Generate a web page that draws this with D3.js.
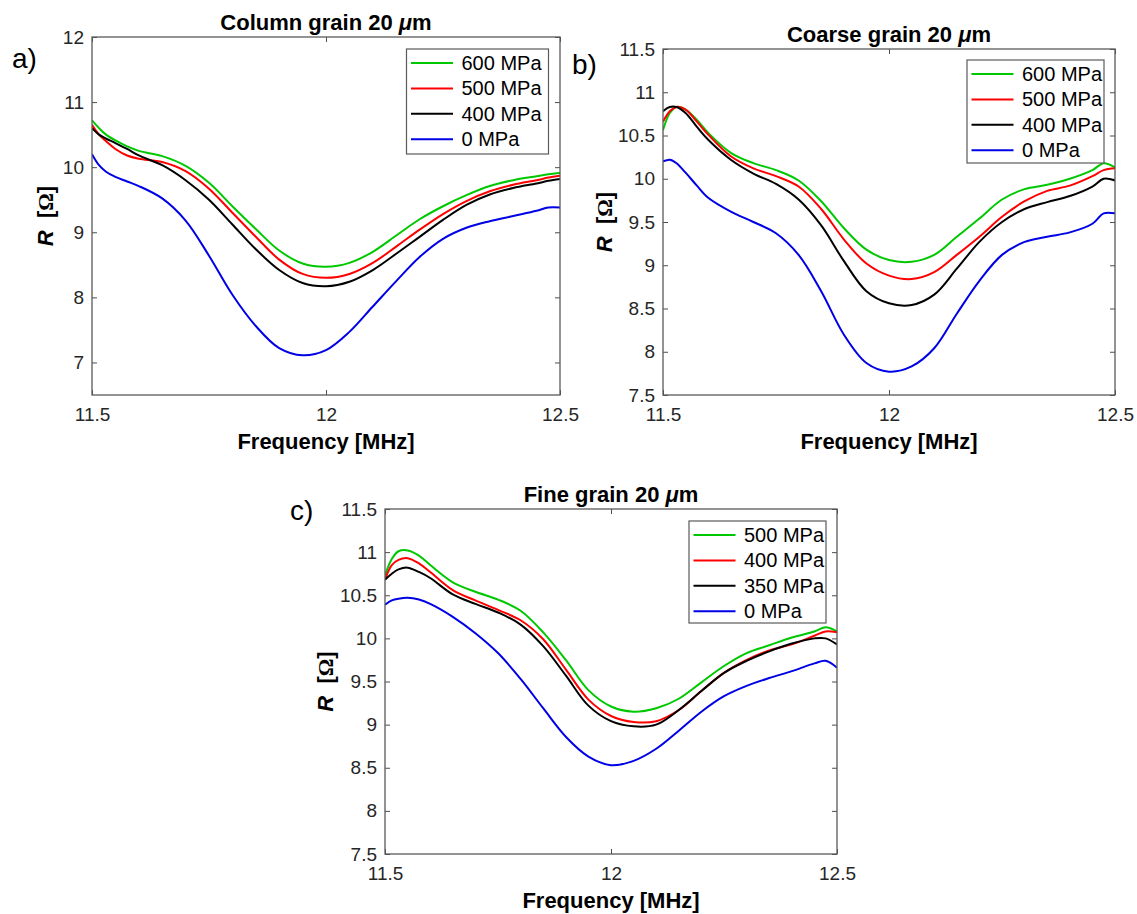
<!doctype html>
<html lang="en">
  <head>
    <meta charset="utf-8">
    <title>R vs frequency under stress</title>
    <script src="https://d3js.org/d3.v7.min.js"></script>
    <style>
      body { margin: 0; background: #fff; }
      svg { display: block; font-family: Arial, "Liberation Sans", sans-serif; }
      .tick text { fill: #262626; }
    </style>
  </head>
  <body>
    <div id="chart"></div>
    <script>

      // frequency samples [MHz], shared by the three panels
      const freq = [11.5, 11.515, 11.53, 11.55, 11.575, 11.6, 11.65, 11.7, 11.75, 11.8, 11.85, 11.9, 11.95,
                    12.0, 12.05, 12.1, 12.15, 12.2, 12.25, 12.3, 12.35, 12.4, 12.45, 12.475, 12.5];

      const xTicks = [11.5, 12, 12.5];
      const yTicksA = [7, 8, 9, 10, 11, 12];
      const yTicksBC = [7.5, 8, 8.5, 9, 9.5, 10, 10.5, 11, 11.5];
      const colors = ["#00c800", "#ff0000", "#000000", "#0000e6"];

      // a) column grain
      const columnLabels = ["600 MPa", "500 MPa", "400 MPa", "0 MPa"];
      const column600 = [10.72, 10.60, 10.50, 10.41, 10.32, 10.25, 10.17, 10.02, 9.76, 9.40, 9.05, 8.72, 8.52,
                         8.47, 8.53, 8.70, 8.95, 9.20, 9.40, 9.57, 9.71, 9.80, 9.86, 9.89, 9.91];
      const column500 = [10.65, 10.50, 10.40, 10.28, 10.18, 10.13, 10.08, 9.94, 9.67, 9.30, 8.93, 8.58, 8.36,
                         8.30, 8.36, 8.53, 8.78, 9.04, 9.28, 9.48, 9.63, 9.73, 9.80, 9.84, 9.87];
      const column400 = [10.60, 10.50, 10.44, 10.37, 10.28, 10.18, 10.03, 9.80, 9.50, 9.12, 8.74, 8.42, 8.22,
                         8.17, 8.24, 8.42, 8.67, 8.93, 9.19, 9.42, 9.58, 9.68, 9.75, 9.79, 9.82];
      const column0 = [10.20, 10.03, 9.93, 9.85, 9.78, 9.71, 9.52, 9.18, 8.64, 8.04, 7.56, 7.22, 7.11,
                       7.19, 7.47, 7.86, 8.25, 8.62, 8.90, 9.07, 9.17, 9.25, 9.33, 9.38, 9.38];

      // b) coarse grain
      const coarseLabels = ["600 MPa", "500 MPa", "400 MPa", "0 MPa"];
      const coarse600 = [10.56, 10.76, 10.83, 10.80, 10.68, 10.53, 10.30, 10.18, 10.10, 9.98, 9.74, 9.43, 9.18,
                         9.06, 9.04, 9.12, 9.33, 9.54, 9.76, 9.88, 9.93, 10.00, 10.10, 10.18, 10.13];
      const coarse500 = [10.66, 10.78, 10.83, 10.80, 10.66, 10.51, 10.26, 10.12, 10.03, 9.91, 9.65, 9.30, 9.02,
                         8.88, 8.84, 8.92, 9.12, 9.33, 9.56, 9.74, 9.86, 9.92, 10.03, 10.10, 10.12];
      const coarse400 = [10.78, 10.83, 10.83, 10.76, 10.60, 10.45, 10.22, 10.06, 9.94, 9.76, 9.46, 9.05, 8.70,
                         8.56, 8.54, 8.66, 8.96, 9.27, 9.50, 9.65, 9.73, 9.80, 9.91, 10.00, 9.98];
      const coarse0 = [10.20, 10.22, 10.18, 10.07, 9.92, 9.78, 9.62, 9.50, 9.37, 9.12, 8.70, 8.20, 7.87,
                       7.77, 7.83, 8.04, 8.44, 8.82, 9.12, 9.27, 9.33, 9.38, 9.48, 9.60, 9.60];

      // c) fine grain
      const fineLabels = ["500 MPa", "400 MPa", "350 MPa", "0 MPa"];
      const fine500 = [10.73, 10.92, 11.01, 11.02, 10.96, 10.85, 10.65, 10.54, 10.45, 10.32, 10.07, 9.75, 9.40,
                       9.21, 9.15, 9.19, 9.30, 9.49, 9.68, 9.83, 9.92, 10.01, 10.08, 10.13, 10.08];
      const fine400 = [10.68, 10.85, 10.91, 10.93, 10.87, 10.77, 10.56, 10.44, 10.33, 10.21, 9.99, 9.64, 9.29,
                       9.10, 9.03, 9.04, 9.17, 9.39, 9.60, 9.75, 9.86, 9.93, 10.03, 10.08, 10.07];
      const fine350 = [10.68, 10.75, 10.80, 10.82, 10.77, 10.70, 10.51, 10.40, 10.30, 10.16, 9.91, 9.57, 9.22,
                       9.04, 8.98, 9.00, 9.17, 9.39, 9.60, 9.74, 9.85, 9.94, 10.00, 10.00, 9.93];
      const fine0 = [10.39, 10.44, 10.46, 10.47, 10.45, 10.40, 10.25, 10.06, 9.83, 9.53, 9.19, 8.86, 8.63,
                     8.53, 8.58, 8.72, 8.93, 9.15, 9.33, 9.45, 9.54, 9.62, 9.71, 9.74, 9.66];

      const panels = [
        {id: "a", title: "Column grain", letter: "a)", letterPos: [12, 68],
         box: {left: 92, top: 37, width: 468, height: 358}, yDomain: [6.5, 12], yTicks: yTicksA, yLabelX: 53,
         legend: {x: 406.5, y: 49, w: 142, h: 105}, labels: columnLabels,
         series: [column600, column500, column400, column0]},
        {id: "b", title: "Coarse grain", letter: "b)", letterPos: [572, 74],
         box: {left: 663, top: 49, width: 452, height: 346}, yDomain: [7.5, 11.5], yTicks: yTicksBC, yLabelX: 612,
         legend: {x: 967, y: 60, w: 137, h: 103}, labels: coarseLabels,
         series: [coarse600, coarse500, coarse400, coarse0]},
        {id: "c", title: "Fine grain", letter: "c)", letterPos: [290, 520],
         box: {left: 385, top: 509, width: 452, height: 345}, yDomain: [7.5, 11.5], yTicks: yTicksBC, yLabelX: 333,
         legend: {x: 689, y: 521, w: 137, h: 102}, labels: fineLabels,
         series: [fine500, fine400, fine350, fine0]}
      ];

      const svg = d3.select("#chart")
        .append("svg")
          .attr("width", 1137)
          .attr("height", 914);

      const fmt = d3.format("~g");

      panels.forEach(p => {
        const b = p.box;
        const x = d3.scaleLinear().domain([11.5, 12.5]).range([0, b.width]);
        const y = d3.scaleLinear().domain(p.yDomain).range([b.height, 0]);

        const g = svg.append("g")
          .attr("transform", `translate(${b.left},${b.top})`);

        g.append("clipPath")
          .attr("id", "clip-" + p.id)
          .append("rect")
            .attr("width", b.width)
            .attr("height", b.height);

        // ticks point inwards on all four sides, labels only bottom and left
        const styleAxis = sel => {
          sel.select(".domain").remove();
          sel.selectAll(".tick line").attr("stroke", "#4d4d4d").attr("stroke-width", 1);
        };

        g.append("g")
          .attr("transform", `translate(0,${b.height})`)
          .call(d3.axisBottom(x).tickValues(xTicks).tickSizeInner(-5).tickSizeOuter(0).tickPadding(13).tickFormat(fmt))
          .call(styleAxis)
          .selectAll("text")
            .attr("font-size", "19px")
            .attr("font-family", "Arial, 'Liberation Sans', sans-serif");

        g.append("g")
          .call(d3.axisTop(x).tickValues(xTicks).tickSizeInner(-5).tickSizeOuter(0).tickFormat(""))
          .call(styleAxis);

        g.append("g")
          .call(d3.axisLeft(y).tickValues(p.yTicks).tickSizeInner(-5).tickSizeOuter(0).tickPadding(8).tickFormat(fmt))
          .call(styleAxis)
          .selectAll("text")
            .attr("font-size", "19px")
            .attr("font-family", "Arial, 'Liberation Sans', sans-serif");

        g.append("g")
          .attr("transform", `translate(${b.width},0)`)
          .call(d3.axisRight(y).tickValues(p.yTicks).tickSizeInner(-5).tickSizeOuter(0).tickFormat(""))
          .call(styleAxis);

        // curves
        const line = d3.line()
          .x((d, i) => x(freq[i]))
          .y(d => y(d))
          .curve(d3.curveCatmullRom.alpha(0.5));

        g.append("g")
          .attr("clip-path", `url(#clip-${p.id})`)
          .selectAll("path")
          .data(p.series)
          .join("path")
            .attr("fill", "none")
            .attr("stroke", (d, i) => colors[i])
            .attr("stroke-width", 2)
            .attr("stroke-linejoin", "round")
            .attr("d", line);

        // axes box
        g.append("rect")
          .attr("width", b.width)
          .attr("height", b.height)
          .attr("fill", "none")
          .attr("stroke", "#5a5a5a")
          .attr("stroke-width", 1.3);

        // legend
        const lg = svg.append("g")
          .attr("transform", `translate(${p.legend.x},${p.legend.y})`);
        lg.append("rect")
          .attr("width", p.legend.w)
          .attr("height", p.legend.h)
          .attr("fill", "#fff")
          .attr("stroke", "#5a5a5a")
          .attr("stroke-width", 1.2);
        const row = lg.selectAll("g.row")
          .data(p.labels)
          .join("g")
            .attr("class", "row")
            .attr("transform", (d, i) => `translate(0,${14 + i * 25.4})`);
        row.append("line")
          .attr("x1", 4.5)
          .attr("x2", 46.5)
          .attr("stroke", (d, i) => colors[i])
          .attr("stroke-width", 2);
        row.append("text")
          .attr("x", 55)
          .attr("dy", "0.35em")
          .attr("font-size", "20px")
          .attr("fill", "#000")
          .text(d => d);

        // title with italic mu
        const t = svg.append("text")
          .attr("x", b.left + b.width / 2)
          .attr("y", b.top - 7.5)
          .attr("text-anchor", "middle")
          .attr("font-size", "22px")
          .attr("font-weight", "bold")
          .text(p.title + " 20 ");
        t.append("tspan").attr("font-style", "italic").text("\u03bc");
        t.append("tspan").text("m");

        // x label
        svg.append("text")
          .attr("x", b.left + b.width / 2)
          .attr("y", b.top + b.height + 54)
          .attr("text-anchor", "middle")
          .attr("font-size", "22px")
          .attr("font-weight", "bold")
          .text("Frequency [MHz]");

        // y label
        const yl = svg.append("text")
          .attr("transform", `translate(${p.yLabelX},${b.top + b.height / 2}) rotate(-90)`)
          .attr("text-anchor", "middle")
          .attr("font-size", "22px")
          .attr("font-weight", "bold")
          .attr("xml:space", "preserve");
        yl.append("tspan").attr("font-style", "italic").text("R");
        yl.append("tspan").text("  [");
        yl.append("tspan").attr("font-family", "'Liberation Serif', 'DejaVu Serif', serif").text("\u03a9");
        yl.append("tspan").text("]");

        // panel letter
        svg.append("text")
          .attr("x", p.letterPos[0])
          .attr("y", p.letterPos[1])
          .attr("font-size", "28px")
          .text(p.letter);
      });

    </script>
  </body>
</html>
